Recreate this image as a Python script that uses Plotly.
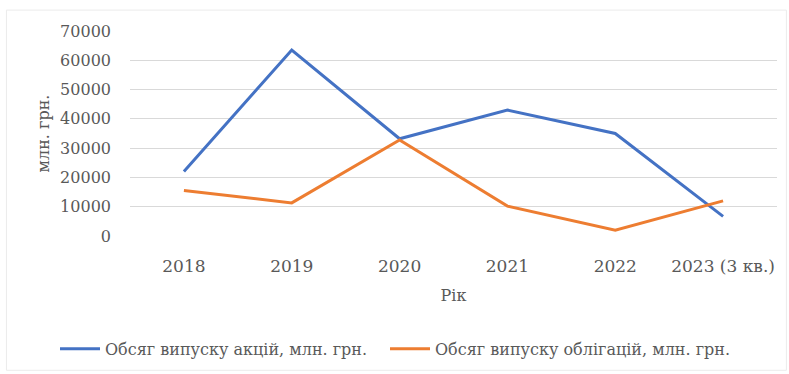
import plotly.graph_objects as go

years = ["2018", "2019", "2020", "2021", "2022", "2023 (3 кв.)"]
shares = [22000, 63500, 33200, 43000, 35000, 6700]
bonds = [15500, 11300, 32800, 10200, 2000, 12000]

series_names = [
    "Обсяг випуску акцій, млн. грн.",
    "Обсяг випуску облігацій, млн. грн.",
]
series_colors = ["#4472C4", "#ED7D31"]

font_family = "DejaVu Serif"
text_color = "#595959"

fig = go.Figure()
for name, vals, color, leg in zip(series_names, [shares, bonds],
                                  series_colors, ["legend", "legend2"]):
    fig.add_trace(go.Scatter(
        x=years, y=vals, name=name, mode="lines",
        line=dict(color=color, width=3), legend=leg,
    ))

legend_common = dict(
    orientation="h", xref="container", yref="container",
    xanchor="left", y=0.067, yanchor="middle",
    font=dict(family=font_family, size=16, color=text_color),
    itemwidth=40, bgcolor="rgba(0,0,0,0)",
)

fig.update_layout(
    width=789, height=374,
    margin=dict(l=130, r=12, t=31, b=138, autoexpand=False),
    paper_bgcolor="white", plot_bgcolor="white",
    font=dict(family=font_family, size=16, color=text_color),
    showlegend=True,
    legend=dict(x=55 / 789, **legend_common),
    legend2=dict(x=385 / 789, **legend_common),
    xaxis=dict(
        type="category", range=[-0.5, 5.5],
        showgrid=False, zeroline=False, showline=False,
        ticks="", ticklabelstandoff=18,
        tickfont=dict(family=font_family, size=17, color=text_color),
        title=dict(text="Рік", standoff=14,
                   font=dict(family=font_family, size=16, color=text_color)),
    ),
    yaxis=dict(
        range=[0, 70000], dtick=10000, tickformat="d",
        showgrid=True, gridcolor="#D9D9D9", gridwidth=1,
        zeroline=False, showline=False,
        ticks="", ticklabelstandoff=18,
        tickfont=dict(family=font_family, size=16, color=text_color),
        title=dict(text="млн. грн.", standoff=6,
                   font=dict(family=font_family, size=16, color=text_color)),
    ),
    shapes=[dict(
        type="rect", xref="paper", yref="paper",
        x0=-0.191, x1=1.0145, y0=-0.655, y1=1.102,
        line=dict(color="#EBEBEB", width=1), layer="below",
    )],
)

fig.write_html("out.html")
